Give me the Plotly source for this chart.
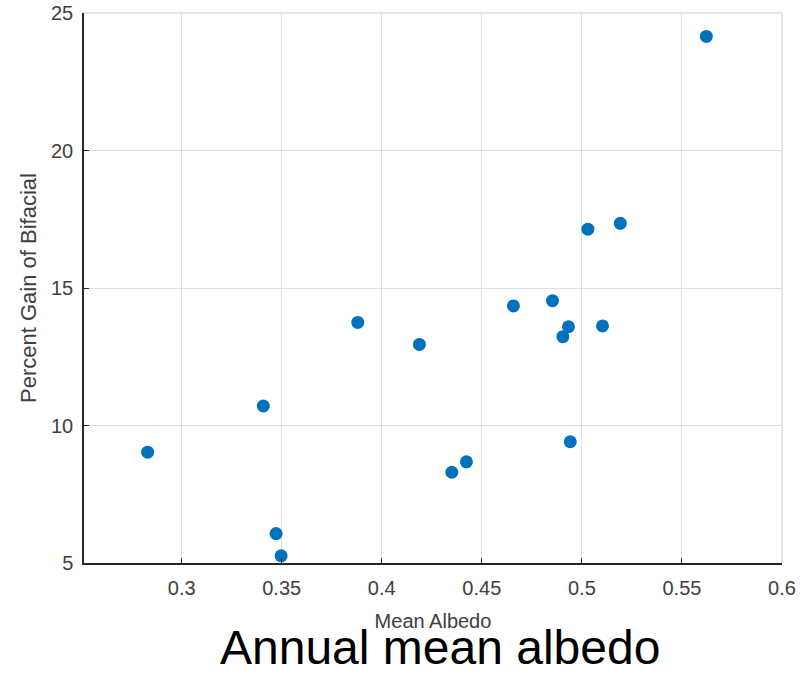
import plotly.graph_objects as go

mean_albedo = [0.283, 0.3408, 0.3472, 0.3497, 0.388, 0.4188, 0.435, 0.4423,
               0.4658, 0.4853, 0.4905, 0.4933, 0.4942, 0.503, 0.5103, 0.5192, 0.5622]
percent_gain = [9.03, 10.71, 6.07, 5.26, 13.75, 12.95, 8.30, 8.68,
                14.35, 14.54, 13.23, 13.59, 9.41, 17.14, 13.62, 17.35, 24.15]
x_ticks = [0.3, 0.35, 0.4, 0.45, 0.5, 0.55, 0.6]
x_ticklabels = ["0.3", "0.35", "0.4", "0.45", "0.5", "0.55", "0.6"]
y_ticks = [5, 10, 15, 20, 25]

grid_col = "#dedede"
axis_col = "#262626"
font_fam = "Liberation Sans, Arial, Helvetica, sans-serif"

fig = go.Figure()
fig.add_trace(go.Scatter(
    x=mean_albedo, y=percent_gain, mode="markers",
    marker=dict(color="#0072BD", size=13, line=dict(width=0)),
    showlegend=False,
))

fig.update_layout(
    width=810, height=674,
    margin=dict(l=84, r=28, t=13, b=111, autoexpand=False),
    paper_bgcolor="white", plot_bgcolor="white",
    font=dict(family=font_fam, color="#404040"),
    xaxis=dict(
        range=[0.2512, 0.6], tickvals=x_ticks, ticktext=x_ticklabels,
        showgrid=True, gridcolor=grid_col, gridwidth=1,
        showline=True, linecolor=axis_col, linewidth=1.5,
        ticks="inside", ticklen=5, tickcolor=axis_col,
        tickfont=dict(size=20, color="#404040"),
        zeroline=False, ticklabelstandoff=6, automargin=False,
        title=dict(text="Mean Albedo", font=dict(size=20, color="#404040"), standoff=16),
    ),
    yaxis=dict(
        range=[5, 25], tickvals=y_ticks,
        showgrid=True, gridcolor=grid_col, gridwidth=1,
        showline=True, linecolor=axis_col, linewidth=1.5,
        ticks="inside", ticklen=5, tickcolor=axis_col,
        tickfont=dict(size=20, color="#404040"),
        zeroline=False, ticklabelstandoff=5, automargin=False,
        title=dict(text="Percent Gain of Bifacial", font=dict(size=22, color="#404040"), standoff=8),
    ),
    shapes=[
        dict(type="line", xref="paper", yref="paper", x0=0, x1=1, y0=1, y1=1,
             line=dict(color=grid_col, width=1.5), layer="below"),
        dict(type="line", xref="paper", yref="paper", x0=1, x1=1, y0=0, y1=1,
             line=dict(color=grid_col, width=1.5), layer="below"),
    ],
    annotations=[
        dict(text="Annual mean albedo", xref="paper", yref="paper",
             x=0.51, y=0, xanchor="center", yanchor="top", yshift=-56,
             showarrow=False, font=dict(size=48, color="black", family=font_fam)),
    ],
)

fig.write_html("out.html", config={"displayModeBar": False},
               post_script="document.body.style.margin='0';document.body.style.overflow='hidden';")
